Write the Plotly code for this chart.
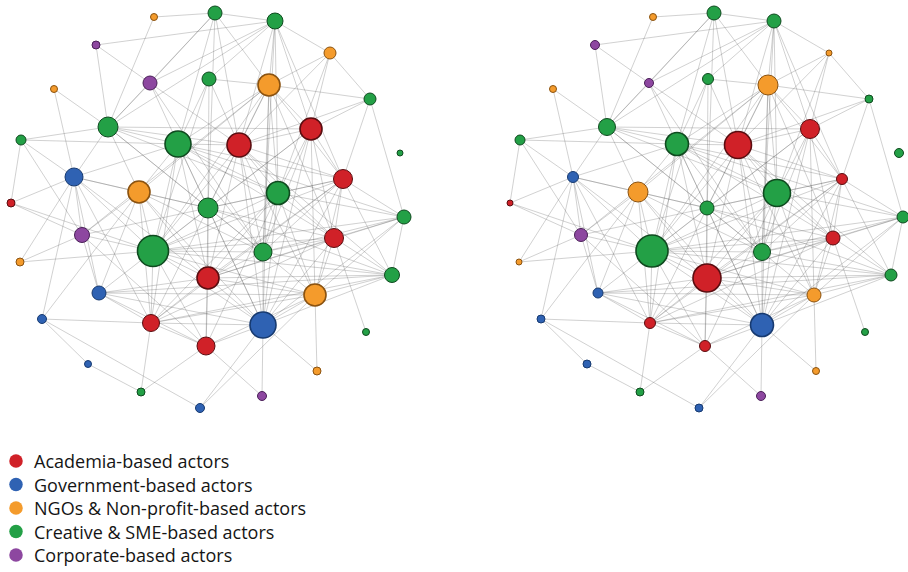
import plotly.graph_objects as go

# ---- Network data -------------------------------------------------------
# Actor categories
categories = ["Academia-based actors", "Government-based actors",
              "NGOs & Non-profit-based actors", "Creative & SME-based actors",
              "Corporate-based actors"]
cat_fill = ["#d02128", "#2f62b3", "#f49b2c", "#23a046", "#8d47a0"]
cat_line = ["#5a0d10", "#173a70", "#8a5210", "#0f4a1f", "#4a2058"]

# Node category index (0..4, see `categories`)
node_cat = [2, 3, 3, 4, 2, 4, 3, 2, 3, 2,
            3, 3, 0, 0, 3, 3, 1, 2, 3, 3,
            0, 0, 4, 3, 3, 0, 3, 2, 0, 3,
            1, 2, 1, 0, 1, 0, 3, 1, 2, 3,
            4, 1]

# Node layout coordinates (shared by both network views)
node_x = [154, 215, 275, 96, 330, 150, 209, 269, 370, 54,
          108, 178, 239, 311, 21, 400, 74, 139, 208, 278,
          343, 11, 82, 153, 263, 334, 404, 20, 208, 392,
          99, 315, 42, 151, 263, 206, 366, 88, 317, 141,
          262, 200]
node_y = [17, 13, 21, 45, 53, 83, 79, 85, 99, 89,
          127, 144, 145, 129, 140, 153, 177, 192, 208, 193,
          179, 203, 235, 251, 252, 238, 217, 262, 278, 275,
          293, 295, 319, 323, 325, 346, 332, 364, 371, 392,
          396, 408]

# Node radius in each view (centrality measure scaled to px)
radius_left = [3.5, 7, 8, 4, 6, 7, 7, 11, 6, 3.5,
               10, 13, 12, 11, 5, 3, 9, 11, 10, 11.5,
               9.5, 4, 7.5, 15.5, 9, 9.5, 7, 4, 11, 7.5,
               7, 11, 4.5, 8.5, 13, 9, 3.5, 3.5, 4, 4,
               4.5, 4.5]
radius_right = [3.5, 7, 7, 4.5, 3, 4.5, 5.5, 10, 4, 3.5,
                8.5, 11.5, 13.5, 9.5, 5, 4.5, 5.5, 10, 7, 13.5,
                5.5, 3, 6.5, 16, 8.5, 7, 6, 3, 14, 6,
                5, 7, 4, 5.5, 11.5, 5.5, 3.5, 4, 3.5, 4,
                4.5, 4]

# Collaboration ties (undirected)
edges = [
    (0, 1), (0, 10),
    (3, 2), (3, 5), (3, 10),
    (5, 1), (5, 2), (5, 10), (5, 11), (5, 12), (5, 24),
    (1, 2), (1, 7), (1, 11), (1, 12), (1, 10), (1, 18),
    (2, 4), (2, 7), (2, 12), (2, 13), (2, 19), (2, 20), (2, 10), (2, 6), (2, 24),
    (4, 8), (4, 7), (4, 13), (4, 12), (4, 19),
    (6, 7), (6, 18), (6, 11), (6, 12), (6, 23),
    (7, 8), (7, 12), (7, 13), (7, 19), (7, 24), (7, 11), (7, 17), (7, 18),
    (7, 20), (7, 34), (7, 25), (7, 23), (7, 22),
    (8, 13), (8, 26), (8, 20), (8, 12),
    (9, 10), (9, 16),
    (10, 14), (10, 11), (10, 12), (10, 16), (10, 17), (10, 18), (10, 19),
    (10, 24), (10, 13),
    (11, 12), (11, 16), (11, 17), (11, 18), (11, 19), (11, 20), (11, 23),
    (11, 24), (11, 25), (11, 28), (11, 33), (11, 26), (11, 34), (11, 14),
    (12, 13), (12, 18), (12, 19), (12, 20), (12, 23), (12, 24), (12, 25),
    (12, 28), (12, 31), (12, 34), (12, 29),
    (13, 19), (13, 20), (13, 18), (13, 24), (13, 25), (13, 34), (13, 23), (13, 31),
    (14, 21), (14, 16), (14, 22),
    (16, 21), (16, 17), (16, 18), (16, 22), (16, 23), (16, 30), (16, 28),
    (16, 33), (16, 32),
    (17, 18), (17, 23), (17, 22), (17, 30), (17, 24), (17, 33), (17, 34), (17, 28),
    (18, 19), (18, 28), (18, 20), (18, 23), (18, 24), (18, 25), (18, 34),
    (18, 33), (18, 35), (18, 29), (18, 22),
    (19, 20), (19, 23), (19, 24), (19, 25), (19, 26), (19, 28), (19, 33),
    (19, 34), (19, 35), (19, 31),
    (20, 25), (20, 26), (20, 29), (20, 24), (20, 28), (20, 31), (20, 34),
    (20, 23), (20, 33),
    (21, 22), (21, 23),
    (22, 23), (22, 27), (22, 30), (22, 35),
    (23, 24), (23, 28), (23, 31), (23, 33), (23, 34), (23, 35), (23, 25),
    (23, 26), (23, 29), (23, 27), (23, 30),
    (24, 25), (24, 31), (24, 34), (24, 28), (24, 29), (24, 26),
    (25, 26), (25, 29), (25, 31), (25, 28), (25, 34), (25, 33), (25, 36),
    (26, 29), (26, 31), (26, 28), (26, 34),
    (27, 16),
    (28, 29), (28, 31), (28, 33), (28, 34), (28, 35), (28, 30),
    (29, 31), (29, 34), (29, 33), (29, 30),
    (30, 31), (30, 33), (30, 34), (30, 35),
    (31, 34), (31, 38), (31, 33), (31, 35), (31, 41),
    (32, 33), (32, 37), (32, 41), (32, 17),
    (33, 34), (33, 35), (33, 39),
    (34, 35), (34, 38), (34, 41),
    (35, 40), (35, 39),
    (37, 39),
    (40, 34),
]

# ---- Figure -------------------------------------------------------------
W, H = 908, 572
PANEL_H = 420

fig = go.Figure()

panels = [
    ("x", "y", radius_left),
    ("x2", "y2", radius_right),
]

for xa, ya, radii in panels:
    ex, ey = [], []
    for a, b in edges:
        ex += [node_x[a], node_x[b], None]
        ey += [node_y[a], node_y[b], None]
    fig.add_trace(go.Scatter(
        x=ex, y=ey, mode="lines", xaxis=xa, yaxis=ya,
        line=dict(color="rgba(95,95,95,0.36)", width=0.8),
        hoverinfo="skip", showlegend=False, cliponaxis=False,
    ))
    # draw small nodes first so large ones sit on top
    order = sorted(range(len(node_x)), key=lambda i: radii[i])
    fig.add_trace(go.Scatter(
        x=[node_x[i] for i in order],
        y=[node_y[i] for i in order],
        mode="markers", xaxis=xa, yaxis=ya,
        marker=dict(
            size=[2 * radii[i] for i in order],
            color=[cat_fill[node_cat[i]] for i in order],
            line=dict(color=[cat_line[node_cat[i]] for i in order],
                      width=[1.6 if radii[i] > 10 else 1.0 for i in order]),
            opacity=1,
        ),
        text=[categories[node_cat[i]] for i in order],
        hoverinfo="text", showlegend=False, cliponaxis=False,
    ))

# Category key in the lower-left corner (own pixel-unit axis)
KEY_TOP, KEY_STEP, KEY_X, KEY_TEXT_X = 461, 23.5, 16, 32
key_y = [KEY_TOP + KEY_STEP * k for k in range(len(categories))]
fig.add_trace(go.Scatter(
    x=[KEY_X] * len(categories), y=key_y, mode="markers",
    xaxis="x3", yaxis="y3",
    marker=dict(size=13.5, color=cat_fill, line=dict(width=0)),
    text=categories, hoverinfo="text", showlegend=False, cliponaxis=False,
))
for name, yk in zip(categories, key_y):
    fig.add_annotation(
        x=KEY_TEXT_X, y=yk, xref="x3", yref="y3", text=name,
        showarrow=False, xanchor="left", yanchor="middle",
        font=dict(family="Open Sans, Lato, sans-serif", size=18, color="#151515"),
    )

ydom = [(H - PANEL_H) / H, 1]
axis_common = dict(visible=False, showgrid=False, zeroline=False, fixedrange=True)
fig.update_layout(
    width=W, height=H,
    margin=dict(l=0, r=0, t=0, b=0),
    paper_bgcolor="white", plot_bgcolor="rgba(0,0,0,0)",
    xaxis=dict(domain=[0, 450 / W], range=[0, 450], **axis_common),
    yaxis=dict(domain=ydom, range=[PANEL_H, 0], **axis_common),
    xaxis2=dict(domain=[499 / W, 1], range=[0, W - 499], **axis_common),
    yaxis2=dict(domain=ydom, range=[PANEL_H, 0], anchor="x2", **axis_common),
    xaxis3=dict(domain=[0, 1], range=[0, W], anchor="y3", **axis_common),
    yaxis3=dict(domain=[0, 1], range=[H, 0], anchor="x3", **axis_common),
    showlegend=False,
)

fig.write_html("out.html")
